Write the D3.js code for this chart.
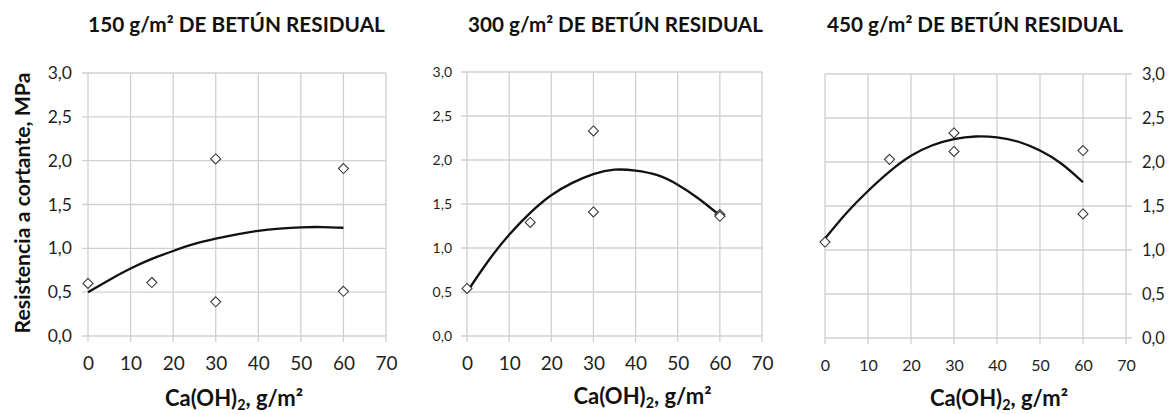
<!DOCTYPE html>
<html><head><meta charset="utf-8">
<script src="https://cdn.jsdelivr.net/npm/d3@7"></script>
<style>
body{margin:0;background:#fff;}
svg{display:block;font-family:Lato,"Open Sans",sans-serif;}
</style></head>
<body><svg id="c" width="1169" height="414"></svg>
<script>
// ---- data ----
const titles = ["150 g/m² DE BETÚN RESIDUAL", "300 g/m² DE BETÚN RESIDUAL", "450 g/m² DE BETÚN RESIDUAL"];
const xTicks = [0, 10, 20, 30, 40, 50, 60, 70];
const yTicks = [0, 0.5, 1.0, 1.5, 2.0, 2.5, 3.0];
const yAxisTitle = "Resistencia a cortante, MPa";
// measured points (Ca(OH)2 g/m², MPa)
const ptsX = [0, 15, 30, 30, 60, 60];
const pts150 = [0.60, 0.61, 2.02, 0.39, 1.91, 0.51];
const pts300 = [0.54, 1.29, 2.33, 1.41, 1.38, 1.36];
const pts450 = [1.09, 2.03, 2.33, 2.12, 2.13, 1.41];
// trend curves
const curveX = [0, 5, 10, 15, 20, 25, 30, 35, 40, 45, 50, 55, 60];
const curve150 = [0.50, 0.64, 0.77, 0.88, 0.97, 1.05, 1.11, 1.16, 1.20, 1.225, 1.24, 1.243, 1.235];
const curve300 = [0.50, 0.85, 1.15, 1.40, 1.60, 1.74, 1.84, 1.89, 1.88, 1.83, 1.72, 1.56, 1.37];
const curve450 = [1.13, 1.42, 1.67, 1.89, 2.07, 2.19, 2.26, 2.29, 2.28, 2.23, 2.13, 1.98, 1.77];

const svg = d3.select("#c");
const fmt = d => d.toFixed(1).replace(".", ",");
const TXT = "#1f1f1f";

function fit(sel, target) {
  const w = sel.node().getComputedTextLength();
  const fs = parseFloat(sel.attr("font-size"));
  sel.attr("font-size", (fs * target / w).toFixed(2));
}

const panels = [
  {title: titles[0], pts: pts150, curve: curve150, l: 88, r: 386, t: 73, b: 336, side: "left",
   yLabX: 72, yFont: 17.5, xFont: 19, titleX: 236.5, titleW: 297, xTitleX: 234, xTitleY: 398},
  {title: titles[1], pts: pts300, curve: curve300, l: 467, r: 762, t: 72, b: 336, side: "left",
   yLabX: 452, yFont: 14, xFont: 19, titleX: 615.5, titleW: 295, xTitleX: 642.5, xTitleY: 396},
  {title: titles[2], pts: pts450, curve: curve450, l: 825, r: 1126, t: 74, b: 338, side: "right",
   yLabX: 1142, yFont: 16.5, xFont: 16, titleX: 975, titleW: 296, xTitleX: 999, xTitleY: 398}
];

panels.forEach(p => {
  const x = d3.scaleLinear().domain([0, 70]).range([p.l, p.r]);
  const y = d3.scaleLinear().domain([0, 3]).range([p.b, p.t]);
  const g = svg.append("g");

  // gridlines (with small outward tick extensions)
  g.selectAll(".vg").data(xTicks).join("line")
    .attr("x1", d => x(d)).attr("x2", d => x(d))
    .attr("y1", p.t).attr("y2", p.b + 6)
    .attr("stroke", "#d0d0d0").attr("stroke-width", 1.3);
  g.selectAll(".hg").data(yTicks).join("line")
    .attr("x1", p.side === "left" ? p.l - 6 : p.l)
    .attr("x2", p.side === "left" ? p.r : p.r + 6)
    .attr("y1", d => y(d)).attr("y2", d => y(d))
    .attr("stroke", "#d0d0d0").attr("stroke-width", 1.3);

  // y tick labels via axis
  const yAx = (p.side === "left" ? d3.axisLeft(y) : d3.axisRight(y))
    .tickValues(yTicks).tickFormat(fmt).tickSize(0).tickPadding(0);
  const yg = g.append("g").attr("transform", `translate(${p.yLabX},0)`).call(yAx)
    .attr("font-size", p.yFont).attr("font-family", "Lato, sans-serif");
  yg.select(".domain").remove();
  yg.selectAll("text").attr("fill", TXT);

  // x tick labels via axis
  const xAx = d3.axisBottom(x).tickValues(xTicks).tickFormat(d3.format("d")).tickSize(0).tickPadding(0);
  const xg = g.append("g").attr("transform", `translate(0,${p.b + 27})`).call(xAx)
    .attr("font-size", p.xFont).attr("font-family", "Lato, sans-serif");
  xg.select(".domain").remove();
  xg.selectAll("text").attr("fill", TXT).attr("dy", "0.35em").attr("y", 0);

  // trend curve
  const line = d3.line().x((d, i) => x(curveX[i])).y(d => y(d)).curve(d3.curveNatural);
  g.append("path").datum(p.curve).attr("d", line)
    .attr("fill", "none").attr("stroke", "#111").attr("stroke-width", 2.3);

  // diamonds
  const sym = d3.symbol().type(d3.symbolDiamond2).size(64);
  g.selectAll(".pt").data(p.pts).join("path")
    .attr("d", sym)
    .attr("transform", (d, i) => `translate(${x(ptsX[i])},${y(d)})`)
    .attr("fill", "#fff").attr("stroke", "#3a3a3a").attr("stroke-width", 1.1);

  // title
  const tt = g.append("text").attr("x", p.titleX).attr("y", 25).attr("dy", "0.35em")
    .attr("text-anchor", "middle").attr("font-weight", "bold").attr("font-size", 17)
    .attr("fill", "#111").text(p.title);
  fit(tt, p.titleW);

  // x axis title with subscript
  const xt = g.append("text").attr("x", p.xTitleX).attr("y", p.xTitleY).attr("dy", "0.35em")
    .attr("text-anchor", "middle").attr("font-weight", "bold").attr("font-size", 17).attr("fill", "#111");
  xt.append("tspan").text("Ca(OH)");
  xt.append("tspan").attr("font-size", "0.65em").attr("dy", "0.3em").text("2");
  xt.append("tspan").attr("dy", "-0.2em").text(", g/m²");
  fit(xt, 138);
});

// y axis title
const yt = svg.append("text")
  .attr("transform", "translate(22.5,203) rotate(-90)")
  .attr("text-anchor", "middle").attr("dy", "0.35em")
  .attr("font-weight", "bold").attr("font-size", 17).attr("fill", "#111")
  .text(yAxisTitle);
fit(yt, 261);
</script>
</body></html>
